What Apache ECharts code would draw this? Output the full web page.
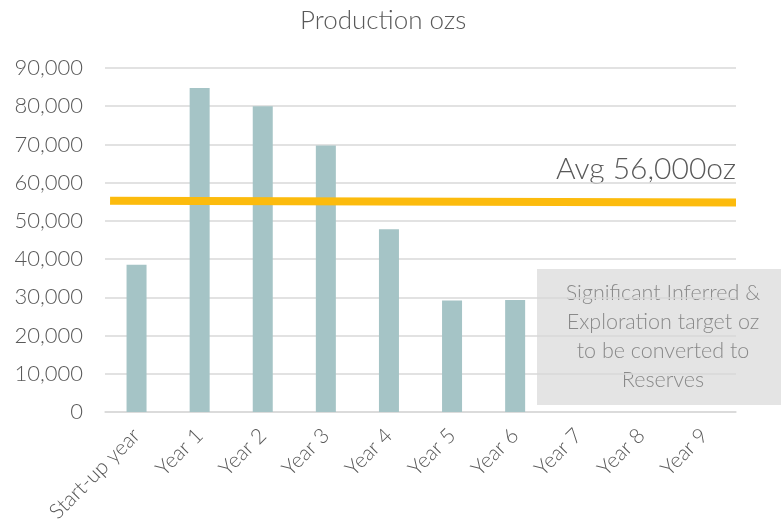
<!DOCTYPE html>
<html>
<head>
<meta charset="utf-8">
<script src="https://cdn.jsdelivr.net/npm/echarts@6/dist/echarts.min.js"></script>
<style>
html,body{margin:0;padding:0;background:#fff;}
#chart{width:781px;height:529px;}
</style>
</head>
<body>
<div id="chart"></div>
<script>
var years = ['Start-up year','Year 1','Year 2','Year 3','Year 4','Year 5','Year 6','Year 7','Year 8','Year 9'];
var production = [38500, 84800, 80000, 69700, 47800, 29200, 29300, null, null, null];
// avg line as drawn: slightly falling from left end to right end
var avgLine = [[0.8, 55300], [100, 54800]];
var yTicks = [0, 90000, 10000];

var fontName = 'Lato';
var chart = echarts.init(document.getElementById('chart'));
var option = {
    animation: false,
    title: {
        text: 'Production ozs',
        left: 295,
        top: 3,
        textStyle: {color: '#595959', fontFamily: fontName, fontWeight: 300, fontSize: 26}
    },
    grid: {left: 105, right: 45, top: 68, bottom: 117},
    xAxis: [
        {
            type: 'category',
            data: years,
            axisLine: {lineStyle: {color: '#d9d9d9', width: 1.5}},
            axisTick: {show: false},
            axisLabel: {
                rotate: 45, interval: 0, margin: 20,
                color: '#595959', fontFamily: fontName, fontWeight: 300, fontSize: 21
            }
        },
        {type: 'value', min: 0, max: 100, show: false}
    ],
    yAxis: {
        type: 'value',
        min: yTicks[0], max: yTicks[1], interval: yTicks[2],
        axisLine: {show: false},
        axisTick: {show: false},
        splitLine: {lineStyle: {color: '#d9d9d9', width: 1.5}},
        axisLabel: {
            margin: 22,
            color: '#595959', fontFamily: fontName, fontWeight: 300, fontSize: 22,
            formatter: function (v) { return v.toLocaleString('en-US'); }
        }
    },
    series: [
        {
            type: 'bar',
            data: production,
            barWidth: 20,
            itemStyle: {color: '#a5c4c6'}
        },
        {
            type: 'line',
            xAxisIndex: 1,
            data: avgLine,
            symbol: 'none',
            lineStyle: {color: '#fcbb0d', width: 8, cap: 'butt'},
            z: 3
        }
    ],
    graphic: [
        {
            type: 'text',
            right: 45,
            top: 154,
            style: {
                text: 'Avg 56,000oz',
                fill: '#595959',
                font: '300 30px Lato',
                align: 'right'
            }
        },
        {
            type: 'group',
            left: 537,
            top: 269,
            children: [
                {
                    type: 'rect',
                    shape: {x: 0, y: 0, width: 244, height: 136},
                    style: {fill: '#e4e4e4'}
                },
                {
                    type: 'text',
                    x: 126,
                    y: 68,
                    style: {
                        text: 'Significant Inferred &\nExploration target oz\nto be converted to\nReserves',
                        fill: '#898989',
                        font: '300 21.5px Lato',
                        lineHeight: 29,
                        align: 'center',
                        verticalAlign: 'middle'
                    }
                }
            ]
        }
    ]
};
chart.setOption(option, true);
window.onresize = chart.resize;
</script>
</body>
</html>
